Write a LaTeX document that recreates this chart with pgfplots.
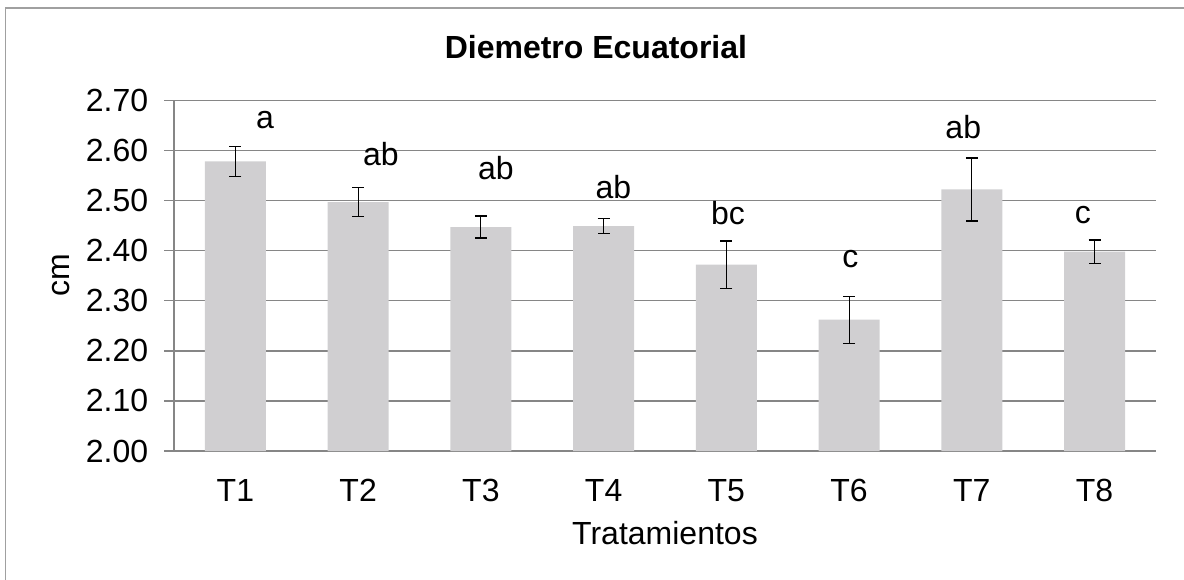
\documentclass[border=0pt]{standalone}
\usepackage{pgfplots}
\pgfplotsset{compat=1.18}
\usepackage{fontspec}
\setmainfont{Liberation Sans}
\definecolor{barc}{RGB}{208,207,209}
\definecolor{gridc}{RGB}{134,134,134}
\definecolor{framec}{RGB}{160,160,160}
\newcommand\f{\fontsize{16}{19}\selectfont}
\begin{document}
\begin{tikzpicture}
\useasboundingbox (-87pt,-64pt) rectangle (505pt,225.5pt);
\draw[framec, line width=0.6pt] (-84.2pt,-70pt) -- (-84.2pt,221.5pt) -- (510pt,221.5pt);
\begin{axis}[
  scale only axis,
  width=491pt, height=175.35pt,
  xmin=0.5, xmax=8.5,
  ymin=2.0, ymax=2.7,
  xtick={1,2,3,4,5,6,7,8},
  xticklabels={T1,T2,T3,T4,T5,T6,T7,T8},
  ytick={2.0,2.1,2.2,2.3,2.4,2.5,2.6,2.7},
  yticklabel={\pgfmathprintnumber[fixed,fixed zerofill,precision=2]{\tick}},
  /pgf/number format/assume math mode=true,
  axis x line=bottom, axis y line=left,
  axis line style={gridc, line width=0.7pt, -},
  ymajorgrids, grid style={gridc, line width=0.7pt},
  major x tick style={draw=none},
  major y tick style={gridc, line width=0.7pt},
  tick align=outside, major tick length=4.75pt,
  ticklabel style={font=\f},
  xticklabel style={anchor=base, yshift=-20.5pt},
  yticklabel style={anchor=east, inner sep=0pt, xshift=-8pt},
  every axis title shift=0pt,
  title={\bfseries Diemetro Ecuatorial},
  title style={font=\f\bfseries, at={(axis description cs:0.4297,1.1506)}, anchor=center},
  xlabel={Tratamientos},
  xlabel style={font=\f, at={(axis description cs:0.5,-0.268)}, anchor=base},
  ylabel={cm},
  ylabel style={font=\f, at={(axis description cs:-0.115,0.5)}, anchor=center},
  clip=false,
]
\addplot[ybar, bar width=30.5pt, fill=barc, draw=none,
  error bars/.cd, y dir=both, y explicit,
  error bar style={black, line width=0.6pt},
  error mark options={rotate=90, mark size=3pt, black, line width=0.6pt}]
  coordinates {
  (1,2.578) +- (0,0.030)
  (2,2.497) +- (0,0.029)
  (3,2.447) +- (0,0.022)
  (4,2.449) +- (0,0.015)
  (5,2.372) +- (0,0.047)
  (6,2.262) +- (0,0.047)
  (7,2.522) +- (0,0.063)
  (8,2.398) +- (0,0.023)
  };
\node[font=\f, anchor=base] at (axis cs:1.241,2.644) {a};
\node[font=\f, anchor=base] at (axis cs:2.186,2.570) {ab};
\node[font=\f, anchor=base] at (axis cs:3.123,2.542) {ab};
\node[font=\f, anchor=base] at (axis cs:4.08,2.504) {ab};
\node[font=\f, anchor=base] at (axis cs:5.013,2.452) {bc};
\node[font=\f, anchor=base] at (axis cs:6.01,2.367) {c};
\node[font=\f, anchor=base] at (axis cs:6.93,2.624) {ab};
\node[font=\f, anchor=base] at (axis cs:7.905,2.454) {c};
\end{axis}
\end{tikzpicture}
\end{document}
